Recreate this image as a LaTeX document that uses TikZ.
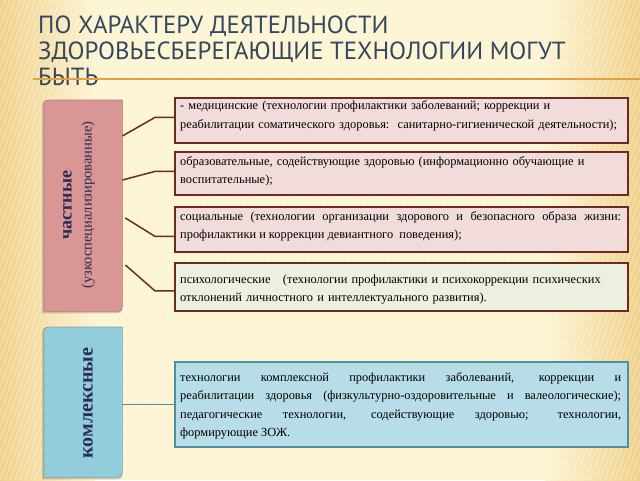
\documentclass[tikz,border=0pt]{standalone}
\usepackage{fontspec}
\setmainfont{Liberation Serif}
\newfontfamily\titlefont{PT Sans}
\usetikzlibrary{calc}
\definecolor{bgc}{HTML}{FDF4D2}
\definecolor{bge}{HTML}{F0D08A}
\definecolor{titlec}{HTML}{34475C}
\definecolor{orangec}{HTML}{E3A23F}
\definecolor{brownb}{HTML}{6B2B22}
\definecolor{pinkf}{HTML}{F2DCDB}
\definecolor{greenf}{HTML}{EBF1DE}
\definecolor{bluef}{HTML}{B7DEE8}
\definecolor{blueb}{HTML}{4F8FA0}
\definecolor{pinkL}{HTML}{D99694}
\definecolor{pinkLb}{HTML}{B07C7A}
\definecolor{blueL}{HTML}{92CDDC}
\definecolor{blueLb}{HTML}{7FA3AD}
\definecolor{navy}{HTML}{2B2B55}
\tikzset{
  titletext/.style={anchor=base west, inner sep=0pt, text=titlec, font=\titlefont\fontsize{24.8}{26}\selectfont},
  rbox/.style={draw=brownb, line width=1.8pt, fill=pinkf, anchor=north west, minimum width=453pt, inner sep=0pt},
  gbox/.style={rbox, fill=greenf},
  bbox/.style={rbox, draw=blueb, fill=bluef},
  txt/.style={anchor=north west, inner sep=0pt, text width=441pt, text=black, font=\fontsize{12.4}{18.5}\selectfont},
  conn/.style={draw=brownb, line width=1.5pt},
  bconn/.style={draw=blueb, line width=1.5pt},
  sidebox/.style={anchor=north west, inner sep=0pt, minimum width=78pt},
}
\newcommand{\fl}{\rule{0pt}{10pt}}
\begin{document}
\begin{tikzpicture}[x=1pt,y=-1pt]
\useasboundingbox (0,0) rectangle (640,480);
% background
\fill[bgc] (0,0) rectangle (640,480);
\shade[left color=bge, right color=bgc] (0,0) rectangle (95,480);
\shade[left color=bgc, right color=bge] (545,0) rectangle (640,480);
\begin{scope}
  \clip (0,0) rectangle (640,480);
  \foreach \i in {0,...,170} {
    \draw[white, opacity=0.3, line width=1.2pt] (\i*5,0) -- (\i*5-180,480);
  }
\end{scope}
% title
\node[titletext] (t1) at (38,33) {ПО ХАРАКТЕРУ ДЕЯТЕЛЬНОСТИ};
\node[titletext] (t2) at (38,59) {ЗДОРОВЬЕСБЕРЕГАЮЩИЕ ТЕХНОЛОГИИ МОГУТ};
\node[titletext] (t3) at (38,85) {БЫТЬ};
\draw[orangec, line width=1.5pt] (33,79) -- (640,79);
% left boxes
\node[sidebox, minimum height=211pt] (pink) at (44,100) {};
\node[sidebox, minimum height=150pt] (blue) at (44,327) {};
\path[fill=black, opacity=0.18]
  ([xshift=-2pt,yshift=-2pt]pink.south west) -- ([xshift=-2pt,yshift=-10pt]pink.north west)
  .. controls ([xshift=-2pt]pink.north west) .. ([xshift=8pt]pink.north west)
  -- (pink.north east) -- ([yshift=10pt]pink.south east)
  .. controls ([yshift=-2pt]pink.south east) .. ([xshift=-10pt,yshift=-2pt]pink.south east) -- cycle;
\path[fill=pinkL, draw=pinkLb, line width=0.6pt]
  (pink.south west) -- ([yshift=-10pt]pink.north west)
  .. controls (pink.north west) .. ([xshift=10pt]pink.north west)
  -- (pink.north east) -- ([yshift=10pt]pink.south east)
  .. controls (pink.south east) .. ([xshift=-10pt]pink.south east) -- cycle;
\path[fill=black, opacity=0.18]
  ([xshift=-2pt,yshift=-2pt]blue.south west) -- ([xshift=-2pt,yshift=-10pt]blue.north west)
  .. controls ([xshift=-2pt]blue.north west) .. ([xshift=8pt]blue.north west)
  -- (blue.north east) -- ([yshift=10pt]blue.south east)
  .. controls ([yshift=-2pt]blue.south east) .. ([xshift=-10pt,yshift=-2pt]blue.south east) -- cycle;
\path[fill=blueL, draw=blueLb, line width=0.6pt]
  (blue.south west) -- ([yshift=-10pt]blue.north west)
  .. controls (blue.north west) .. ([xshift=10pt]blue.north west)
  -- (blue.north east) -- ([yshift=10pt]blue.south east)
  .. controls (blue.south east) .. ([xshift=-10pt]blue.south east) -- cycle;
\node[rotate=90, align=center, text=navy, inner sep=0pt, font=\fontsize{14.5}{20}\selectfont] (pinklabel) at (79,205)
  {{\bfseries\fontsize{18}{20}\selectfont частные}\\(узкоспециализированные)};
\node[rotate=90, text=navy, inner sep=0pt, font=\bfseries\fontsize{20}{22}\selectfont] (bluelabel) at (88,403) {комлексные};
% right boxes
\node[rbox, minimum height=45pt] (b1) at (174,97) {};
\node[rbox, minimum height=43pt] (b2) at (174,151) {};
\node[rbox, minimum height=45pt] (b3) at (174,206) {};
\node[gbox, minimum height=48pt] (b4) at (174,262) {};
\node[bbox, minimum height=85pt] (b5) at (174,361) {};
\node[txt, align=left] (b1t) at (180,99.5)
  {\fl- медицинские (технологии профилактики заболеваний; коррекции и\\реабилитации соматического здоровья:~~санитарно-гигиенической деятельности);};
\node[txt, align=left] (b2t) at (180,155)
  {\fl образовательные, содействующие здоровью (информационно обучающие и\\воспитательные);};
\node[txt, align=justify] (b3t) at (180,210)
  {\fl социальные (технологии организации здорового и безопасного образа жизни:\linebreak профилактики и коррекции девиантного~~поведения);};
\node[txt, align=left] (b4t) at (180,273)
  {\fl психологические~~~(технологии профилактики и психокоррекции психических\\отклонений личностного и интеллектуального развития).};
\node[txt, align=justify] (b5t) at (180,371)
  {\fl технологии комплексной профилактики заболеваний, коррекции и\linebreak реабилитации здоровья (физкультурно-оздоровительные и валеологические);\linebreak педагогические технологии, содействующие здоровью; технологии,\linebreak формирующие ЗОЖ.};
% connectors
\draw[conn] (pink.east |- 0,136) -- ([xshift=-19pt,yshift=3pt]b1.west) -- ([yshift=3pt]b1.west);
\draw[conn] (pink.east |- 0,180) -- ([xshift=-19pt,yshift=2pt]b2.west) -- ([yshift=2pt]b2.west);
\draw[conn] ([xshift=3pt]pink.east |- 0,218) -- ([xshift=-19pt,yshift=-7pt]b3.west) -- ([yshift=-7pt]b3.west);
\draw[conn] ([xshift=3pt]pink.east |- 0,265) -- ([xshift=-19pt,yshift=-4pt]b4.west) -- ([yshift=-4pt]b4.west);
\draw[bconn] (blue.east |- b5.west) -- (b5.west);
\end{tikzpicture}
\end{document}
